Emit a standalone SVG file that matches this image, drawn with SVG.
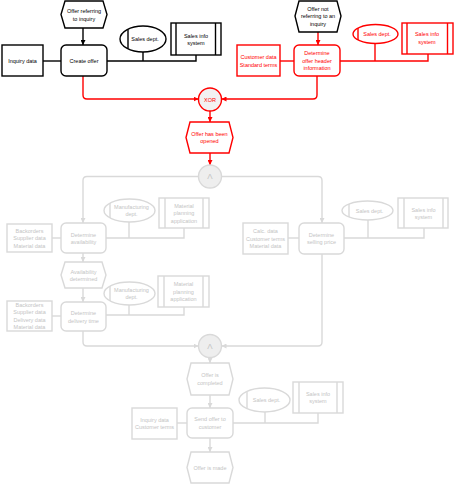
<svg xmlns="http://www.w3.org/2000/svg" width="454" height="485" viewBox="0 0 454 485">
<style>
text{font-family:"Liberation Sans",Arial,sans-serif;font-size:5.5px;text-anchor:middle;dominant-baseline:central}
.k{fill:#fff;stroke:#000;stroke-width:1.4}
.r{fill:#fff;stroke:#f00;stroke-width:1.4}
.g{fill:#fff;stroke:#d9d9d9;stroke-width:1.4}
.kl{fill:none;stroke:#000;stroke-width:1.4}
.rl{fill:none;stroke:#f00;stroke-width:1.4}
.gl{fill:none;stroke:#d9d9d9;stroke-width:1.4}
.tk{fill:#000}
.tr{fill:#f00}
.tg{fill:#c4c4c4}
.gate{fill:#eeeeee}
</style>
<defs>
<marker id="ak" markerWidth="5" markerHeight="5" refX="5" refY="2.5" orient="auto" markerUnits="userSpaceOnUse"><path d="M0,0 L5,2.5 L0,5 Z" fill="#000"/></marker>
<marker id="ar" markerWidth="5" markerHeight="5" refX="5" refY="2.5" orient="auto" markerUnits="userSpaceOnUse"><path d="M0,0 L5,2.5 L0,5 Z" fill="#f00"/></marker>
<marker id="ag" markerWidth="5" markerHeight="5" refX="5" refY="2.5" orient="auto" markerUnits="userSpaceOnUse"><path d="M0,0 L5,2.5 L0,5 Z" fill="#d9d9d9"/></marker>
</defs>

<g id="connectors">
<path class="kl" d="M83,28 V45" marker-end="url(#ak)"/>
<path class="kl" d="M43,61 H61"/>
<path class="kl" d="M107,61 H196 V55"/>
<path class="kl" d="M143,52 V61"/>
<path class="rl" d="M318,32 V45" marker-end="url(#ar)"/>
<path class="rl" d="M280,61 H294"/>
<path class="rl" d="M340,61 H428 V54"/>
<path class="rl" d="M375,43 V61"/>
<path class="rl" d="M83,76 V95 Q83,99 87,99 H198.5" marker-end="url(#ar)"/>
<path class="rl" d="M317,76 V95 Q317,99 313,99 H221.5" marker-end="url(#ar)"/>
<path class="rl" d="M210,111 V122" marker-end="url(#ar)"/>
<path class="rl" d="M210,153 V165" marker-end="url(#ar)"/>
<path class="gl" d="M198.5,176.5 H87 Q83,176.5 83,180.5 V223" marker-end="url(#ag)"/>
<path class="gl" d="M221.5,176.5 H318 Q322,176.5 322,180.5 V223" marker-end="url(#ag)"/>
<path class="gl" d="M52,238 H61"/>
<path class="gl" d="M106,238 H184 V228"/>
<path class="gl" d="M129,222 V238"/>
<path class="gl" d="M83,253 V262" marker-end="url(#ag)"/>
<path class="gl" d="M83,288 V302" marker-end="url(#ag)"/>
<path class="gl" d="M52,316 H61"/>
<path class="gl" d="M106,315 H184 V307"/>
<path class="gl" d="M129,305 V315"/>
<path class="gl" d="M83,331 V342 Q83,346 87,346 H198.5" marker-end="url(#ag)"/>
<path class="gl" d="M288,238 H299"/>
<path class="gl" d="M344,238 H424 V228"/>
<path class="gl" d="M368,220 V238"/>
<path class="gl" d="M322,254 V342 Q322,346 318,346 H221.5" marker-end="url(#ag)"/>
<path class="gl" d="M210,357.5 V363" marker-end="url(#ag)"/>
<path class="gl" d="M210,395 V408" marker-end="url(#ag)"/>
<path class="gl" d="M177,423 H187"/>
<path class="gl" d="M233,423 H318 V413"/>
<path class="gl" d="M265,412 V423"/>
<path class="gl" d="M210,438 V452" marker-end="url(#ag)"/>
</g>

<g id="ev_offer_ref">
<polygon class="k" points="61,14.5 65,1 103,1 107,14.5 103,28 65,28"/>
<text class="tk" x="84" y="11">Offer referring</text>
<text class="tk" x="84" y="18.5">to inquiry</text>
</g>
<g id="fn_create_offer">
<rect class="k" x="61" y="45" width="46" height="31" rx="5"/>
<text class="tk" x="84" y="60.5">Create offer</text>
</g>
<g id="inquiry_data">
<rect class="k" x="2" y="45" width="41" height="31"/>
<text class="tk" x="22.5" y="60.5">Inquiry data</text>
</g>
<g id="sales_dept_1">
<ellipse class="k" cx="143" cy="39" rx="23" ry="13"/>
<line class="kl" x1="128" y1="29.5" x2="128" y2="48.5"/>
<text class="tk" x="145" y="39">Sales dept.</text>
</g>
<g id="sales_info_1">
<rect class="k" x="171" y="23" width="50" height="32"/>
<line class="kl" x1="176" y1="23" x2="176" y2="55"/>
<line class="kl" x1="215.5" y1="23" x2="215.5" y2="55"/>
<text class="tk" x="196" y="35.5">Sales info</text>
<text class="tk" x="196" y="43">system</text>
</g>

<g id="ev_offer_not_ref">
<polygon class="k" points="295,16 299,1 337,1 341,16 337,32 299,32"/>
<text class="tk" x="318" y="8.5">Offer not</text>
<text class="tk" x="318" y="16">referring to an</text>
<text class="tk" x="318" y="23.5">inquiry</text>
</g>
<g id="fn_offer_header">
<rect class="r" x="294" y="45" width="46" height="31" rx="5"/>
<text class="tr" x="317" y="53">Determine</text>
<text class="tr" x="317" y="60.5">offer header</text>
<text class="tr" x="317" y="68">information</text>
</g>
<g id="customer_data">
<rect class="r" x="237" y="45" width="43" height="31"/>
<text class="tr" x="258.5" y="57">Customer data</text>
<text class="tr" x="258.5" y="64.5">Standard terms</text>
</g>
<g id="sales_dept_2">
<ellipse class="r" cx="375.5" cy="34" rx="22.5" ry="9.5"/>
<line class="rl" x1="358" y1="28" x2="358" y2="40"/>
<text class="tr" x="377" y="34">Sales dept.</text>
</g>
<g id="sales_info_2">
<rect class="r" x="402" y="23" width="51" height="31"/>
<line class="rl" x1="407" y1="23" x2="407" y2="54"/>
<line class="rl" x1="447.5" y1="23" x2="447.5" y2="54"/>
<text class="tr" x="427" y="34">Sales info</text>
<text class="tr" x="427" y="41.5">system</text>
</g>

<g id="xor">
<circle cx="210" cy="99.5" r="11.5" fill="#f2f2f2" stroke="#f00" stroke-width="1.4"/>
<text class="tr" x="210" y="99.5">XOR</text>
</g>
<g id="ev_offer_opened">
<polygon class="r" points="186,137.5 190,122 229,122 233,137.5 229,153 190,153"/>
<text class="tr" x="209.5" y="133.5">Offer has been</text>
<text class="tr" x="209.5" y="141">opened</text>
</g>

<g id="and_1">
<circle class="gate" cx="210" cy="176.5" r="11.5" stroke="#d9d9d9" stroke-width="1.4"/>
<text class="tg" x="210" y="176.5" style="font-size:8px">Λ</text>
</g>

<g id="backorders_1">
<rect class="g" x="7" y="224" width="45" height="28"/>
<text class="tg" x="29.5" y="230.7">Backorders</text>
<text class="tg" x="29.5" y="238.2">Supplier data</text>
<text class="tg" x="29.5" y="245.7">Material data</text>
</g>
<g id="fn_det_availability">
<rect class="g" x="61" y="223" width="45" height="30" rx="5"/>
<text class="tg" x="83.5" y="234.5">Determine</text>
<text class="tg" x="83.5" y="242">availability</text>
</g>
<g id="mfg_dept_1">
<ellipse class="g" cx="129.5" cy="210.5" rx="25.5" ry="11.5"/>
<line class="gl" x1="110" y1="203" x2="110" y2="218"/>
<text class="tg" x="131.5" y="206.5">Manufacturing</text>
<text class="tg" x="131.5" y="214">dept.</text>
</g>
<g id="mat_plan_1">
<rect class="g" x="159" y="198" width="50" height="30"/>
<line class="gl" x1="165" y1="198" x2="165" y2="228"/>
<line class="gl" x1="203" y1="198" x2="203" y2="228"/>
<text class="tg" x="184" y="205.5">Material</text>
<text class="tg" x="184" y="213">planning</text>
<text class="tg" x="184" y="220.5">application</text>
</g>
<g id="ev_availability_determined">
<polygon class="g" points="61,275 65,262 102,262 106,275 102,288 65,288"/>
<text class="tg" x="83.5" y="271.5">Availability</text>
<text class="tg" x="83.5" y="279">determined</text>
</g>
<g id="backorders_2">
<rect class="g" x="7" y="301" width="45" height="30"/>
<text class="tg" x="29.5" y="304.5">Backorders</text>
<text class="tg" x="29.5" y="312">Supplier data</text>
<text class="tg" x="29.5" y="319.5">Delivery data</text>
<text class="tg" x="29.5" y="327">Material data</text>
</g>
<g id="fn_det_delivery">
<rect class="g" x="61" y="302" width="45" height="29" rx="5"/>
<text class="tg" x="83.5" y="313">Determine</text>
<text class="tg" x="83.5" y="320.5">delivery time</text>
</g>
<g id="mfg_dept_2">
<ellipse class="g" cx="129.5" cy="293.5" rx="25.5" ry="11.5"/>
<line class="gl" x1="110" y1="286" x2="110" y2="301"/>
<text class="tg" x="131.5" y="289.5">Manufacturing</text>
<text class="tg" x="131.5" y="297">dept.</text>
</g>
<g id="mat_plan_2">
<rect class="g" x="158" y="276" width="51" height="31"/>
<line class="gl" x1="164" y1="276" x2="164" y2="307"/>
<line class="gl" x1="203" y1="276" x2="203" y2="307"/>
<text class="tg" x="183.5" y="284">Material</text>
<text class="tg" x="183.5" y="291.5">planning</text>
<text class="tg" x="183.5" y="299">application</text>
</g>

<g id="calc_data">
<rect class="g" x="243" y="223" width="45" height="31"/>
<text class="tg" x="265.5" y="231">Calc. data</text>
<text class="tg" x="265.5" y="238.5">Customer terms</text>
<text class="tg" x="265.5" y="246">Material data</text>
</g>
<g id="fn_det_price">
<rect class="g" x="299" y="223" width="45" height="31" rx="5"/>
<text class="tg" x="321.5" y="234.5">Determine</text>
<text class="tg" x="321.5" y="242">selling price</text>
</g>
<g id="sales_dept_3">
<ellipse class="g" cx="367.5" cy="210.5" rx="25.5" ry="9.5"/>
<line class="gl" x1="349" y1="204" x2="349" y2="217"/>
<text class="tg" x="369.5" y="210.5">Sales dept.</text>
</g>
<g id="sales_info_3">
<rect class="g" x="398" y="198" width="50" height="30"/>
<line class="gl" x1="404" y1="198" x2="404" y2="228"/>
<line class="gl" x1="443" y1="198" x2="443" y2="228"/>
<text class="tg" x="423.5" y="209.5">Sales info</text>
<text class="tg" x="423.5" y="217">system</text>
</g>

<g id="and_2">
<circle class="gate" cx="210" cy="346" r="11.5" stroke="#d9d9d9" stroke-width="1.4"/>
<text class="tg" x="210" y="346" style="font-size:8px">Λ</text>
</g>
<g id="ev_offer_completed">
<polygon class="g" points="187,379 191,363 229,363 233,379 229,395 191,395"/>
<text class="tg" x="210" y="375">Offer is</text>
<text class="tg" x="210" y="382.5">completed</text>
</g>
<g id="inquiry_customer">
<rect class="g" x="132" y="408" width="45" height="31"/>
<text class="tg" x="154.5" y="419.5">Inquiry data</text>
<text class="tg" x="154.5" y="427">Customer terms</text>
</g>
<g id="fn_send_offer">
<rect class="g" x="187" y="408" width="46" height="30" rx="5"/>
<text class="tg" x="210" y="419">Send offer to</text>
<text class="tg" x="210" y="426.5">customer</text>
</g>
<g id="sales_dept_4">
<ellipse class="g" cx="264.5" cy="400" rx="25.5" ry="12"/>
<line class="gl" x1="247" y1="392" x2="247" y2="408"/>
<text class="tg" x="266.5" y="400">Sales dept.</text>
</g>
<g id="sales_info_4">
<rect class="g" x="293" y="382" width="50" height="31"/>
<line class="gl" x1="299" y1="382" x2="299" y2="413"/>
<line class="gl" x1="337" y1="382" x2="337" y2="413"/>
<text class="tg" x="318" y="393.5">Sales info</text>
<text class="tg" x="318" y="401">system</text>
</g>
<g id="ev_offer_made">
<polygon class="g" points="187,467.5 191,452 229,452 233,467.5 229,483 191,483"/>
<text class="tg" x="210" y="467.5">Offer is made</text>
</g>
</svg>
